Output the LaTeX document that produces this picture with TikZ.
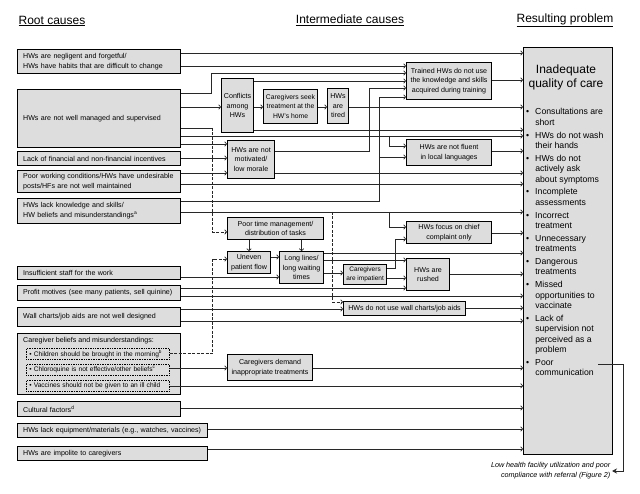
\documentclass[tikz,border=0pt]{standalone}
\usepackage{fontspec}
\setmainfont{Liberation Sans}
\usetikzlibrary{arrows.meta}
\definecolor{boxgray}{RGB}{221,221,221}
\definecolor{linegray}{RGB}{40,40,40}
\newcommand\rootfont{\fontsize{7.1}{10}\selectfont}
\newcommand\midfont{\fontsize{7.1}{9.5}\selectfont}
\newcommand\resfont{\fontsize{8.7}{10.4}\selectfont}
\newcommand\headfont{\fontsize{12}{14}\selectfont}

\begin{document}
\begin{tikzpicture}[x=1pt,y=-1pt,>={To[length=2.6pt,width=5pt]},
  rootbox/.style={draw=black, line width=1.3pt, fill=boxgray, anchor=north west, align=left, inner xsep=5.5pt, inner ysep=0pt, font=\rootfont},
  midbox/.style={draw=black, line width=1.1pt, fill=boxgray, anchor=north west, align=center, inner sep=1pt, font=\midfont},
  beliefbox/.style={draw=black, densely dotted, line width=0.7pt, fill=boxgray, anchor=north west, align=left, inner xsep=3pt, inner ysep=0pt, text width=137pt, minimum height=11pt, font=\fontsize{6.6}{8}\selectfont},
  link/.style={->, draw=linegray, line width=0.7pt},
  dlink/.style={link, dash pattern=on 3pt off 1.5pt},
  plain/.style={draw=linegray, line width=0.7pt}]
\path[use as bounding box, fill=white] (0,0) rectangle (640,494);

% headings
\node[font=\headfont] at (52,21) (roothead) {\underline{Root causes}};
\node[font=\headfont] at (350,20) (midhead) {\underline{Intermediate causes}};
\node[font=\headfont] at (565,20) (reshead) {\underline{Resulting problem}};

% root causes
\node[rootbox, text width=152pt, minimum height=24pt] at (17,49) (negl) {HWs are negligent and forgetful/\\HWs have habits that are difficult to change};
\node[rootbox, text width=152pt, minimum height=58pt] at (17,89) (manage) {HWs are not well managed and supervised};
\node[rootbox, text width=152pt, minimum height=14pt] at (17,151) (incent) {Lack of financial and non-financial incentives};
\node[rootbox, text width=152pt, minimum height=22pt] at (17,170) (workcond) {Poor working conditions/HWs have undesirable\\posts/HFs are not well maintained};
\node[rootbox, text width=152pt, minimum height=25pt] at (17,198) (knowl) {HWs lack knowledge and skills/\\HW beliefs and misunderstandings\textsuperscript{a}};
\node[rootbox, text width=152pt, minimum height=13pt] at (17,266) (staff) {Insufficient staff for the work};
\node[rootbox, text width=152pt, minimum height=15pt] at (17,285) (profit) {Profit motives (see many patients, sell quinine)};
\node[rootbox, text width=152pt, minimum height=19pt] at (17,307) (design) {Wall charts/job aids are not well designed};
\node[rootbox, text width=152pt, minimum height=61pt] at (17,333) (belief) {};
\node[anchor=west, font=\rootfont, inner sep=0pt] at (23,341) (cgtitle) {Caregiver beliefs and misunderstandings:};
\node[beliefbox] at (26,348) (child) {\textbullet\ Children should be brought in the morning\textsuperscript{b}};
\node[beliefbox] at (26,364) (chloro) {\textbullet\ Chloroquine is not effective/other beliefs\textsuperscript{c}};
\node[beliefbox] at (26,380) (vacc) {\textbullet\ Vaccines should not be given to an ill child};
\node[rootbox, text width=152pt, minimum height=15pt] at (17,401) (culture) {Cultural factors\textsuperscript{d}};
\node[rootbox, text width=179pt, minimum height=14pt] at (17,423) (equip) {HWs lack equipment/materials (e.g., watches, vaccines)};
\node[rootbox, text width=179pt, minimum height=14pt] at (17,446) (impolite) {HWs are impolite to caregivers};

% intermediate causes
\node[midbox, minimum width=32pt, minimum height=54pt] at (221,78) (conflict) {Conflicts\\among\\HWs};
\node[midbox, minimum width=54pt, minimum height=34pt, font=\fontsize{6.8}{9.5}\selectfont] at (263,89) (seek) {Caregivers seek\\treatment at the\\HW's home};
\node[midbox, minimum width=21pt, minimum height=35pt] at (327,88) (tired) {HWs\\are\\tired};
\node[midbox, minimum width=85pt, minimum height=37pt] at (406,62) (trained) {Trained HWs do not use\\the knowledge and skills\\acquired during training};
\node[midbox, minimum width=47pt, minimum height=38pt] at (227,140) (motiv) {HWs are not\\motivated/\\low morale};
\node[midbox, minimum width=85pt, minimum height=26pt] at (406,139) (fluent) {HWs are not fluent\\in local languages};
\node[midbox, minimum width=96pt, minimum height=22pt] at (227,217) (timemgmt) {Poor time management/\\distribution of tasks};
\node[midbox, minimum width=43pt, minimum height=22pt] at (227,251) (uneven) {Uneven\\patient flow};
\node[midbox, minimum width=44pt, minimum height=32pt] at (279,251) (lines) {Long lines/\\long waiting\\times};
\node[midbox, minimum width=43pt, minimum height=20pt, inner sep=0.5pt, font=\fontsize{6.5}{9}\selectfont] at (343,264) (impatient) {Caregivers\\are impatient};
\node[midbox, minimum width=85pt, minimum height=22pt] at (406,221) (focus) {HWs focus on chief\\complaint only};
\node[midbox, minimum width=43pt, minimum height=32pt] at (406,258) (rushed) {HWs are\\rushed};
\node[midbox, minimum width=122pt, minimum height=14pt] at (343,301) (nocharts) {HWs do not use wall charts/job aids};
\node[midbox, minimum width=85pt, minimum height=26pt] at (227,354) (demand) {Caregivers demand\\inappropriate treatments};

% resulting problem
\node[draw=black, line width=1.3pt, fill=boxgray, anchor=north west, minimum width=89pt, minimum height=407pt, inner sep=0pt] at (523,47) (result) {};
\node[font=\headfont, align=center, inner sep=0pt] at (566,77) (qhead) {Inadequate\\quality of care};
\node[anchor=north west, inner sep=0pt, font=\resfont] at (526,107.5) (qlist) {%
\begin{tabular}{@{}l@{\hspace{6pt}}l@{}}
\textbullet & Consultations are\\ & short\\[2.4pt]
\textbullet & HWs do not wash\\ & their hands\\[2.4pt]
\textbullet & HWs do not\\ & actively ask\\ & about symptoms\\[2.4pt]
\textbullet & Incomplete\\ & assessments\\[2.4pt]
\textbullet & Incorrect\\ & treatment\\[2.4pt]
\textbullet & Unnecessary\\ & treatments\\[2.4pt]
\textbullet & Dangerous\\ & treatments\\[2.4pt]
\textbullet & Missed\\ & opportunities to\\ & vaccinate\\[2.4pt]
\textbullet & Lack of\\ & supervision not\\ & perceived as a\\ & problem\\[2.4pt]
\textbullet & Poor\\ & communication
\end{tabular}};
\coordinate (pc) at (598,364);
\node[anchor=east, align=right, inner sep=1.5pt, font=\fontsize{7.2}{10}\selectfont\itshape] at (612,471) (lowutil) {Low health facility utilization and poor\\compliance with referral (Figure 2)};

% connectors
\draw[link] (negl.east |- 0,53) -- (result.west |- 0,53);
\draw[link] (negl.east |- 0,66) -- (trained.west |- 0,66);
\draw[link] (manage.east |- 0,93) -- ++(30,0) |- (trained.west |- 0,73);
\draw[link] (manage.east |- 0,107) -- (conflict.west |- 0,107);
\draw[link] (conflict.east |- 0,107) -- (seek.west |- 0,107);
\draw[link] (seek.east |- 0,107) -- (tired.west |- 0,107);
\draw[link] (tired.east |- 0,107) -- (result.west |- 0,107);
\draw[link] (conflict.east |- 0,81) -- (trained.west |- 0,81);
\draw[link] (conflict.east |- 0,130) -- (result.west |- 0,130);
\draw[plain] (manage.east |- 0,128) -- ++(31,0) coordinate (mg);
\draw[dlink] (mg) |- (timemgmt.west |- 0,232);
\draw[link] (manage.east |- 0,136) -- (result.west |- 0,136);
\draw[link] (389,136) |- (fluent.west |- 0,146);
\draw[link] (manage.east |- 0,144) -- (motiv.west |- 0,144);
\draw[link] (incent.east |- 0,158) -- (motiv.west |- 0,158);
\draw[link] (workcond.east |- 0,173) -- (motiv.west |- 0,173);
\draw[link] (motiv.east |- 0,151) -- (369,151) |- (trained.west |- 0,88);
\draw[link] (motiv.east |- 0,173) -- (result.west |- 0,173);
\draw[link] (workcond.east |- 0,184) -- (result.west |- 0,184);
\draw[link] (knowl.east |- 0,201) -- (379,201) |- (trained.west |- 0,97);
\draw[link] (379,157) -- (fluent.west |- 0,157);
\draw[link] (knowl.east |- 0,212) -- (result.west |- 0,212);
\draw[link] (389,212) |- (focus.west |- 0,227);
\draw[dlink] (332,212) |- (nocharts.west |- 0,302);
\draw[link] (timemgmt.south -| uneven.north) -- (uneven.north);
\draw[link] (timemgmt.south -| lines.north) -- (lines.north);
\draw[link] (uneven.east |- 0,257) -- (lines.west |- 0,257);
\draw[dlink] (child.east) -- ++(43,0) |- (uneven.west |- 0,259);
\draw[link] (staff.east |- 0,277) -- (lines.west |- 0,277);
\draw[link] (lines.east |- 0,253) -- (result.west |- 0,253);
\draw[link] (lines.east |- 0,260) -- (rushed.west |- 0,260);
\draw[link] (lines.east |- 0,273) -- (impatient.west |- 0,273);
\draw[link] (impatient.east |- 0,268) -- (395,268) |- (focus.west |- 0,239);
\draw[link] (impatient.east |- 0,278) -- (rushed.west |- 0,278);
\draw[link] (profit.east |- 0,288) -- (rushed.west |- 0,288);
\draw[link] (profit.east |- 0,296) -- (result.west |- 0,296);
\draw[link] (design.east |- 0,309) -- (nocharts.west |- 0,309);
\draw[link] (design.east |- 0,321) -- (result.west |- 0,321);
\draw[link] (trained.east |- 0,80) -- (result.west |- 0,80);
\draw[link] (fluent.east |- 0,151) -- (result.west |- 0,151);
\draw[link] (focus.east |- 0,233) -- (result.west |- 0,233);
\draw[link] (rushed.east |- 0,274) -- (result.west |- 0,274);
\draw[link] (nocharts.east |- 0,308) -- (result.west |- 0,308);
\draw[link] (chloro.east |- 0,368) -- (demand.west |- 0,368);
\draw[link] (demand.east |- 0,368) -- (result.west |- 0,368);
\draw[link] (vacc.east) -- (result.west |- vacc.east);
\draw[link] (culture.east |- 0,408) -- (result.west |- 0,408);
\draw[link] (equip.east |- 0,429) -- (result.west |- 0,429);
\draw[link] (impolite.east |- 0,449) -- (result.west |- 0,449);
\draw[plain, -{Stealth[length=5pt,width=5pt]}] (pc) -- (623,364) |- (lowutil.east);

\end{tikzpicture}
\end{document}
